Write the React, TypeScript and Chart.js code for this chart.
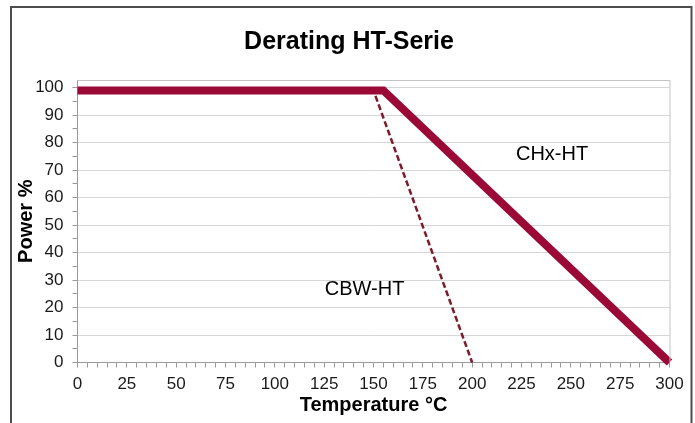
import React, { useEffect, useRef } from "react";
import { Chart, registerables } from "chart.js";

Chart.register(...registerables);

const chartTitle = "Derating HT-Serie";
const xAxisTitle = "Temperature °C";
const yAxisTitle = "Power %";

const chxTemps = [0, 155, 300];
const chxPower = [99, 99, 0];
const cbwTemps = [151, 200];
const cbwPower = [97, 0];

const seriesNames = ["CHx-HT", "CBW-HT"];
const labelTemps = [240.5, 145.5];
const labelPowers = [75.8, 26.7];

const xMin = 0;
const xMax = 300;
const xStep = 5;
const xLabelEvery = 25;
const yMin = 0;
const yMax = 102.8;
const yTop = 100;
const yStep = 5;
const yLabelEvery = 10;

const FONT = "'Liberation Sans', Arial, sans-serif";

function App() {
  const ref = useRef<HTMLCanvasElement | null>(null);

  useEffect(() => {
    if (!ref.current) return;

    const decor = {
      id: "decor",
      afterDraw(chart: any) {
        const { ctx, chartArea, scales } = chart;
        ctx.save();
        // plot frame top/right
        ctx.strokeStyle = "#c4c4c4";
        ctx.lineWidth = 1;
        ctx.beginPath();
        ctx.moveTo(chartArea.left, chartArea.top + 0.5);
        ctx.lineTo(chartArea.right + 0.5, chartArea.top + 0.5);
        ctx.lineTo(chartArea.right + 0.5, chartArea.bottom);
        ctx.stroke();
        // outer frame
        ctx.strokeStyle = "#4d4d4d";
        ctx.lineWidth = 2;
        ctx.strokeRect(11, 7, 680.5, 440);
        // title
        ctx.fillStyle = "#000";
        ctx.font = `bold 25px ${FONT}`;
        ctx.textAlign = "center";
        ctx.textBaseline = "middle";
        ctx.fillText(chartTitle, 349, 42);
        // series labels
        ctx.font = `20px ${FONT}`;
        for (let i = 0; i < seriesNames.length; i++) {
          const px = scales.x.getPixelForValue(labelTemps[i]);
          const py = scales.y.getPixelForValue(labelPowers[i]);
          ctx.fillText(seriesNames[i], px, py);
        }
        ctx.restore();
      },
    };

    const chart = new Chart(ref.current, {
      type: "line",
      data: {
        datasets: [
          {
            label: seriesNames[0],
            data: chxTemps.map((t, i) => ({ x: t, y: chxPower[i] })),
            borderColor: "#9b0a37",
            borderWidth: 8,
            pointRadius: 0,
            borderJoinStyle: "miter",
            borderCapStyle: "butt",
            tension: 0,
            clip: false as any,
          },
          {
            label: seriesNames[1],
            data: cbwTemps.map((t, i) => ({ x: t, y: cbwPower[i] })),
            borderColor: "#7e1b2b",
            borderWidth: 2.5,
            borderDash: [6, 3],
            pointRadius: 0,
            tension: 0,
            clip: false as any,
          },
        ],
      },
      options: {
        animation: false,
        responsive: false,
        layout: { padding: { left: 0, right: 25.5, top: 80, bottom: 0 } },
        plugins: {
          legend: { display: false },
          title: { display: false },
          tooltip: { enabled: false },
        },
        scales: {
          x: {
            type: "linear",
            min: xMin,
            max: xMax,
            afterFit: (s: any) => {
              s.height = 60.5;
            },
            afterBuildTicks: (s: any) => {
              const t = [];
              for (let v = xMin; v <= xMax; v += xStep) t.push({ value: v });
              s.ticks = t;
            },
            border: { color: "#9a9a9a", width: 1 },
            grid: {
              drawOnChartArea: false,
              drawTicks: true,
              tickLength: 5,
              tickColor: "#9a9a9a",
            },
            ticks: {
              autoSkip: false,
              maxRotation: 0,
              padding: 7,
              color: "#1a1a1a",
              font: { family: FONT, size: 17 },
              callback: (v: any) => (Number(v) % xLabelEvery === 0 ? String(v) : ""),
            },
            title: {
              display: true,
              text: xAxisTitle,
              color: "#000",
              font: { family: FONT, size: 20, weight: "bold" },
              padding: { top: 0, bottom: 6 },
            },
          },
          y: {
            type: "linear",
            min: yMin,
            max: yMax,
            afterFit: (s: any) => {
              s.width = 77.5;
            },
            afterBuildTicks: (s: any) => {
              const t = [];
              for (let v = yMin; v <= yTop; v += yStep) t.push({ value: v });
              s.ticks = t;
            },
            border: { color: "#9a9a9a", width: 1 },
            grid: {
              color: (c: any) =>
                c.tick && c.tick.value % yLabelEvery === 0 && c.tick.value !== 0
                  ? "#d6d6d6"
                  : "rgba(0,0,0,0)",
              lineWidth: 1,
              tickLength: 5,
              tickColor: "#9a9a9a",
            },
            ticks: {
              autoSkip: false,
              padding: 9,
              color: "#1a1a1a",
              font: { family: FONT, size: 17 },
              callback: (v: any) => (Number(v) % yLabelEvery === 0 ? String(v) : ""),
            },
            title: {
              display: true,
              text: yAxisTitle,
              color: "#000",
              font: { family: FONT, size: 20, weight: "bold" },
              padding: { top: 14, bottom: 0 },
            },
          },
        },
      },
      plugins: [decor],
    });

    return () => chart.destroy();
  }, []);

  return (
    <div style={{ position: "fixed", left: 0, top: 0, width: 695, height: 423, background: "#fff" }}>
      <canvas ref={ref} width={695} height={423} style={{ width: 695, height: 423, display: "block" }} />
    </div>
  );
}

export default App;
